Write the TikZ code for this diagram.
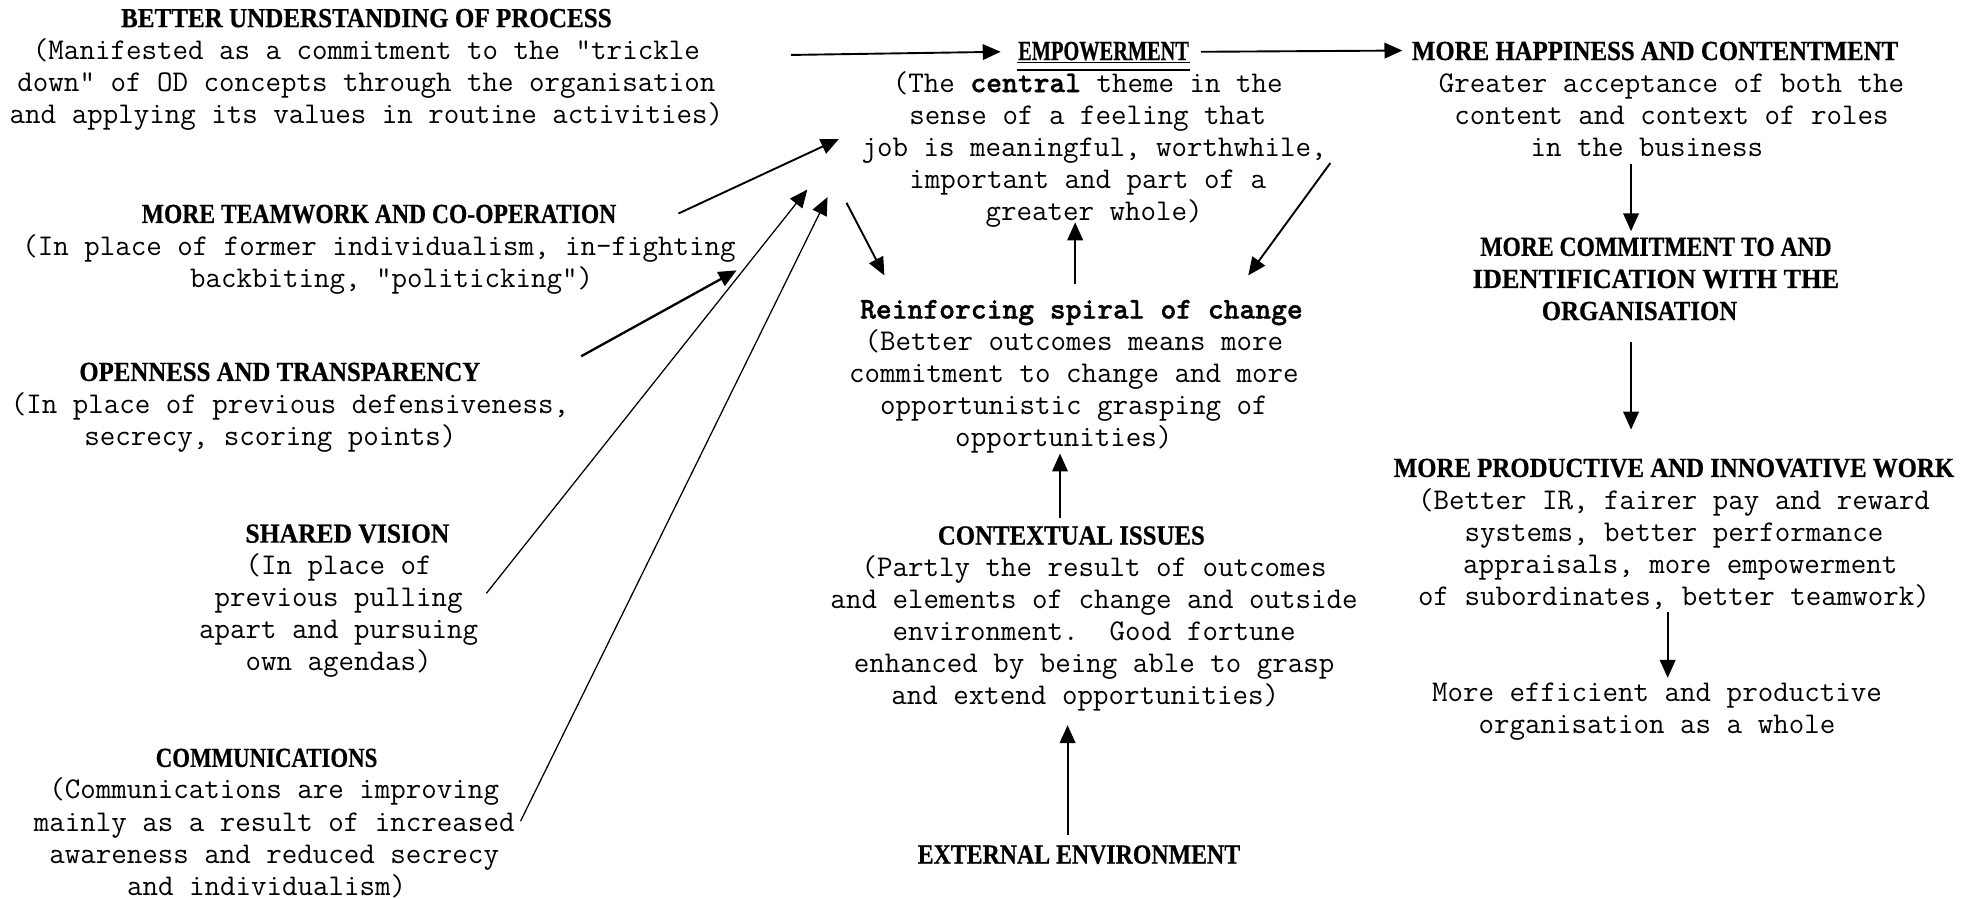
\documentclass[tikz,border=0pt]{standalone}
\usepackage{fontspec}
\usepackage{graphicx}
\newfontfamily\hdfont[FakeStretch=0.9,FakeBold=0.6]{Liberation Serif}
\newfontfamily\ttb[FakeBold=1.2]{lmmonolt10-bold.otf}
\usetikzlibrary{arrows.meta}
\newcommand\bodyf{\ttfamily\fontsize{14.3pt}{15.24pt}\selectfont}
\newcommand\hd[2][1]{\scalebox{#1}[1]{\hdfont\bfseries\fontsize{13.1pt}{15.24pt}\selectfont #2}}
\newcommand\Rs[1]{\hspace*{#1}}
\newcommand\tbf[1]{{\ttb #1}}
\tikzset{
  blk/.style={align=center, inner sep=0pt, anchor=base, font=\bodyf},
  arr/.style={line width=0.9pt, -{Triangle[length=8.5pt,width=7.4pt]}},
  thinarr/.style={arr, line width=0.6pt},
}
\begin{document}
\begin{tikzpicture}[x=0.6pt,y=-0.6pt]
\useasboundingbox (0,0) rectangle (1568,711);
% left column (anchor = baseline of last line)
\node[blk] (bup) at (290,97.7) {\hd[1.01]{BETTER UNDERSTANDING OF PROCESS}\\
 (Manifested as a commitment to the "trickle\\
 down" of OD concepts through the organisation\\
 and applying its values in routine activities)};
\node[blk] (tw) at (300,227.3) {\hd[0.95]{MORE TEAMWORK AND CO-OPERATION}\\
 (In place of former individualism, in-fighting\\
 \Rs{12pt}backbiting, "politicking")};
\node[blk] (op) at (229.5,352.3) {\hd{OPENNESS AND TRANSPARENCY}\Rs{9.6pt}\\
 (In place of previous defensiveness,\\
 secrecy, scoring points)\Rs{18.6pt}};
\node[blk] (sv) at (268,531.1) {\Rs{8.4pt}\hd[1.03]{SHARED VISION}\\
 (In place of\\ previous pulling\\ apart and pursuing\\ own agendas)};
\node[blk] (cm) at (217,708.6) {\hd[0.92]{COMMUNICATIONS}\Rs{7.2pt}\\
 (Communications are improving\\
 mainly as a result of increased\\
 awareness and reduced secrecy\\
 and individualism)\Rs{7.2pt}};
% middle column
\node[blk] (emp) at (873.5,47.5) {\hd[0.82]{EMPOWERMENT}};
\draw[line width=0.8pt] ([xshift=-0.5pt,yshift=-1.2pt]emp.base west) -- ([xshift=0.5pt,yshift=-1.2pt]emp.base east);
\draw[line width=0.8pt] ([xshift=-0.5pt,yshift=-4.8pt]emp.base west) -- ([xshift=0.5pt,yshift=-4.8pt]emp.base east);
\node[blk] (empd) at (861,174.5) {(The \tbf{central} theme in the\\
 sense of a feeling that\\
 \Rs{6pt}job is meaningful, worthwhile,\\
 important and part of a\\
 \Rs{6pt}greater whole)};
\node[blk] (rsc) at (850,353.7) {\Rs{7.2pt}\tbf{Reinforcing spiral of change}\\
 (Better outcomes means more\\
 commitment to change and more\\
 opportunistic grasping of\\
 opportunities)\Rs{9.6pt}};
\node[blk] (ctx) at (866,558) {\hd{CONTEXTUAL ISSUES}\Rs{21.6pt}\\
 (Partly the result of outcomes\\
 and elements of change and outside\\
 environment.\ \ Good fortune\Rs{15pt}\\
 enhanced by being able to grasp\Rs{7.2pt}\\
 and extend opportunities)\Rs{8.4pt}};
\node[blk] (ext) at (854,683.5) {\hd[0.96]{EXTERNAL ENVIRONMENT}};
% right column
\node[blk] (hap) at (1323,123.7) {\hd{MORE HAPPINESS AND CONTENTMENT}\Rs{15.6pt}\\
 Greater acceptance of both the\\
 content and context of roles\\
 in the business\Rs{23.4pt}};
\node[blk] (com) at (1310.7,253.3) {\hd[0.95]{MORE COMMITMENT TO AND}\\
 \hd[1.06]{IDENTIFICATION WITH THE}\Rs{6pt}\\
 \hd{ORGANISATION}\Rs{15.6pt}};
\node[blk] (prd) at (1325,479.1) {\hd{MORE PRODUCTIVE AND INNOVATIVE WORK}\\
 (Better IR, fairer pay and reward\\
 systems, better performance\\
 \Rs{6pt}appraisals, more empowerment\\
 of subordinates, better teamwork)};
\node[blk] (eff) at (1311.5,580.5) {More efficient and productive\\
 organisation as a whole};
% arrow end points
\coordinate (bupE) at (626,43.5);
\coordinate (empW) at (792,41);
\coordinate (empE) at (950.6,41);
\coordinate (hapW) at (1110,40);
\coordinate (twE) at (537,169);
\coordinate (tipTw) at (664,110);
\coordinate (opE) at (460,282);
\coordinate (tipOp) at (583,214);
\coordinate (svE) at (385,469.6);
\coordinate (tipSv) at (639,150);
\coordinate (cmE) at (412,650);
\coordinate (tipCm) at (655,156);
\coordinate (empSW) at (670,160.5);
\coordinate (rscNW) at (700,218);
\coordinate (rscN) at (851,225);
\coordinate (empS) at (851,176);
\coordinate (empSE) at (1053,129);
\coordinate (rscNE) at (988,218);
\coordinate (ctxN) at (839,410);
\coordinate (rscS) at (839,359);
\coordinate (extN) at (845,661);
\coordinate (ctxS) at (845,574);
\coordinate (hapS) at (1291,129.5);
\coordinate (comN) at (1291,183);
\coordinate (comS) at (1291,271);
\coordinate (prdN) at (1291,340);
\coordinate (prdS) at (1320,484.5);
\coordinate (effN) at (1320,536.5);
% arrows
\draw[arr] (bupE) -- (empW);
\draw[arr] (empE) -- (hapW);
\draw[arr] (twE) -- (tipTw);
\draw[arr, line width=1.1pt] (opE) -- (tipOp);
\draw[thinarr] (svE) -- (tipSv);
\draw[thinarr] (cmE) -- (tipCm);
\draw[arr] (empSW) -- (rscNW);
\draw[arr] (rscN) -- (empS);
\draw[arr] (empSE) -- (rscNE);
\draw[arr] (ctxN) -- (rscS);
\draw[arr] (extN) -- (ctxS);
\draw[arr] (hapS) -- (comN);
\draw[arr] (comS) -- (prdN);
\draw[arr] (prdS) -- (effN);
\end{tikzpicture}
\end{document}
